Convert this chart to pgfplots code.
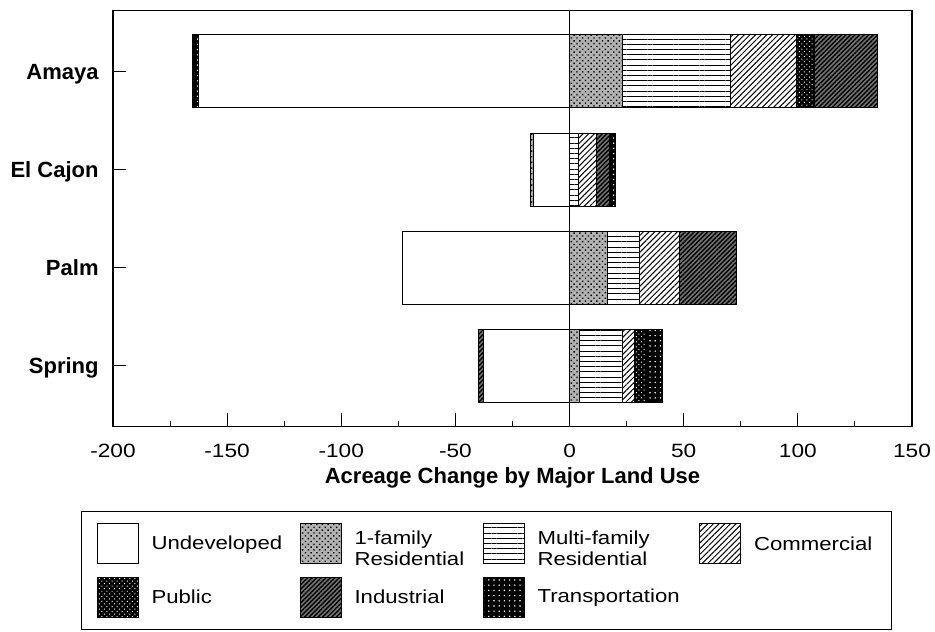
\documentclass[border=0pt]{standalone}
\usepackage{fontspec}
\setmainfont{Liberation Sans}
\newfontfamily\wide{Liberation Sans}[FakeStretch=1.18]
\usepackage{pgfplots}
\pgfplotsset{compat=1.18}
\usetikzlibrary{patterns,patterns.meta}

\pgfplotsset{
  frame/.style={
    scale only axis,
    width=399.5pt, height=207.9pt,
    xmin=-200, xmax=150,
    ymin=-0.62, ymax=3.62,
    xbar stacked, bar width=36.5pt,
  },
  undev/.style={draw=black, line width=0.5pt, fill=white},
  onefam/.style={draw=black, line width=0.5pt, fill=black!30,
    postaction={pattern={Dots[distance=2pt, radius=0.5pt, angle=45]}, pattern color=black}},
  multi/.style={draw=black, line width=0.5pt,
    pattern={Lines[angle=0, distance=2.6pt, line width=0.5pt]}, pattern color=black},
  comm/.style={draw=black, line width=0.5pt,
    pattern={Lines[angle=45, distance=2pt, line width=0.5pt]}, pattern color=black},
  pub/.style={draw=black, line width=0.5pt, fill=black,
    postaction={pattern={Dots[distance=1.8pt, radius=0.35pt, angle=45]}, pattern color=white}},
  ind/.style={draw=black, line width=0.5pt, fill=black!55,
    postaction={pattern={Lines[angle=45, distance=1.6pt, line width=0.7pt]}, pattern color=black}},
  trans/.style={draw=black, line width=0.5pt, fill=black,
    postaction={pattern={Dots[distance=2.6pt, radius=0.4pt]}, pattern color=white}},
}

\begin{document}
\begin{tikzpicture}

% losses (left of zero), stacked on their own
\begin{axis}[frame, hide axis]
\addplot[undev]  coordinates {(-162.5,3) (-15.8,2) (-73.1,1) (-37.7,0)};
\addplot[onefam] coordinates {(0,3) (-1.3,2) (0,1) (0,0)};
\addplot[ind]    coordinates {(0,3) (0,2) (0,1) (-2.2,0)};
\addplot[trans]  coordinates {(-2.6,3) (0,2) (0,1) (0,0)};
\end{axis}

% gains (right of zero), axis and legend
\begin{axis}[
  frame,
  xtick={-200,-150,...,150},
  minor xtick={-175,-125,...,125},
  ytick={0,1,2,3},
  yticklabels={Spring,Palm,El Cajon,Amaya},
  tick align=inside,
  xtick pos=bottom, ytick pos=left,
  major tick length=6.5pt, minor tick length=2.5pt,
  tick style={black, line width=0.5pt},
  axis line style={line width=0.6pt},
  /pgf/number format/assume math mode=true,
  xticklabel style={font=\wide\fontsize{9.6}{11}\selectfont, anchor=north, inner sep=0pt, yshift=-8.6pt},
  yticklabel style={font=\bfseries\fontsize{11}{13}\selectfont, anchor=base east, inner sep=0pt, xshift=-7pt, yshift=-3.9pt},
  xlabel={Acreage Change by Major Land Use},
  xlabel style={font=\bfseries\fontsize{11}{13}\selectfont, at={(axis description cs:0.5,-0.138)}, anchor=base},
  legend image code/.code={\draw[#1] (0pt,-10pt) rectangle (20.5pt,10pt);},
  legend columns=4,
  legend cell align=left,
  legend style={
    at={(-0.040,-0.2024)}, anchor=north west,
    draw=black, line width=0.5pt,
    font=\wide\fontsize{9.4}{10.5}\selectfont,
    inner xsep=7.5pt, inner ysep=6pt, row sep=6.25pt,
    nodes={inner sep=0pt, anchor=west},
    /tikz/every odd column/.append style={column sep=6.5pt},
  },
]
\addplot[undev]  coordinates {(0,3) (0,2) (0,1) (0,0)};
\addlegendentry{\parbox{74pt}{Undeveloped}}
\addplot[onefam] coordinates {(23.2,3) (0,2) (16.5,1) (4.4,0)};
\addlegendentry{\parbox{64pt}{\raggedright 1-family\\Residential}}
\addplot[multi]  coordinates {(47.3,3) (4.1,2) (14.1,1) (18.9,0)};
\addlegendentry{\parbox{80.75pt}{\raggedright Multi-family\\Residential}}
\addplot[comm]   coordinates {(28.9,3) (7.9,2) (17.5,1) (5.1,0)};
\addlegendentry{\parbox{61pt}{Commercial}}
\addplot[pub]    coordinates {(7.9,3) (0,2) (0,1) (5.5,0)};
\addlegendentry{\parbox{74pt}{Public}}
\addplot[ind]    coordinates {(27.6,3) (5.7,2) (25.0,1) (0,0)};
\addlegendentry{\parbox{64pt}{Industrial}}
\addplot[trans]  coordinates {(0,3) (2.6,2) (0,1) (6.9,0)};
\addlegendentry{\parbox{80.75pt}{Transportation}}

\draw[line width=0.6pt] (axis cs:0,-0.62) -- (axis cs:0,3.62);
\coordinate (bbsw) at (rel axis cs:-0.1414,-0.4942);
\coordinate (bbne) at (rel axis cs:1.0288,1.0257);
\end{axis}
\path (bbsw) rectangle (bbne);
\end{tikzpicture}
\end{document}
